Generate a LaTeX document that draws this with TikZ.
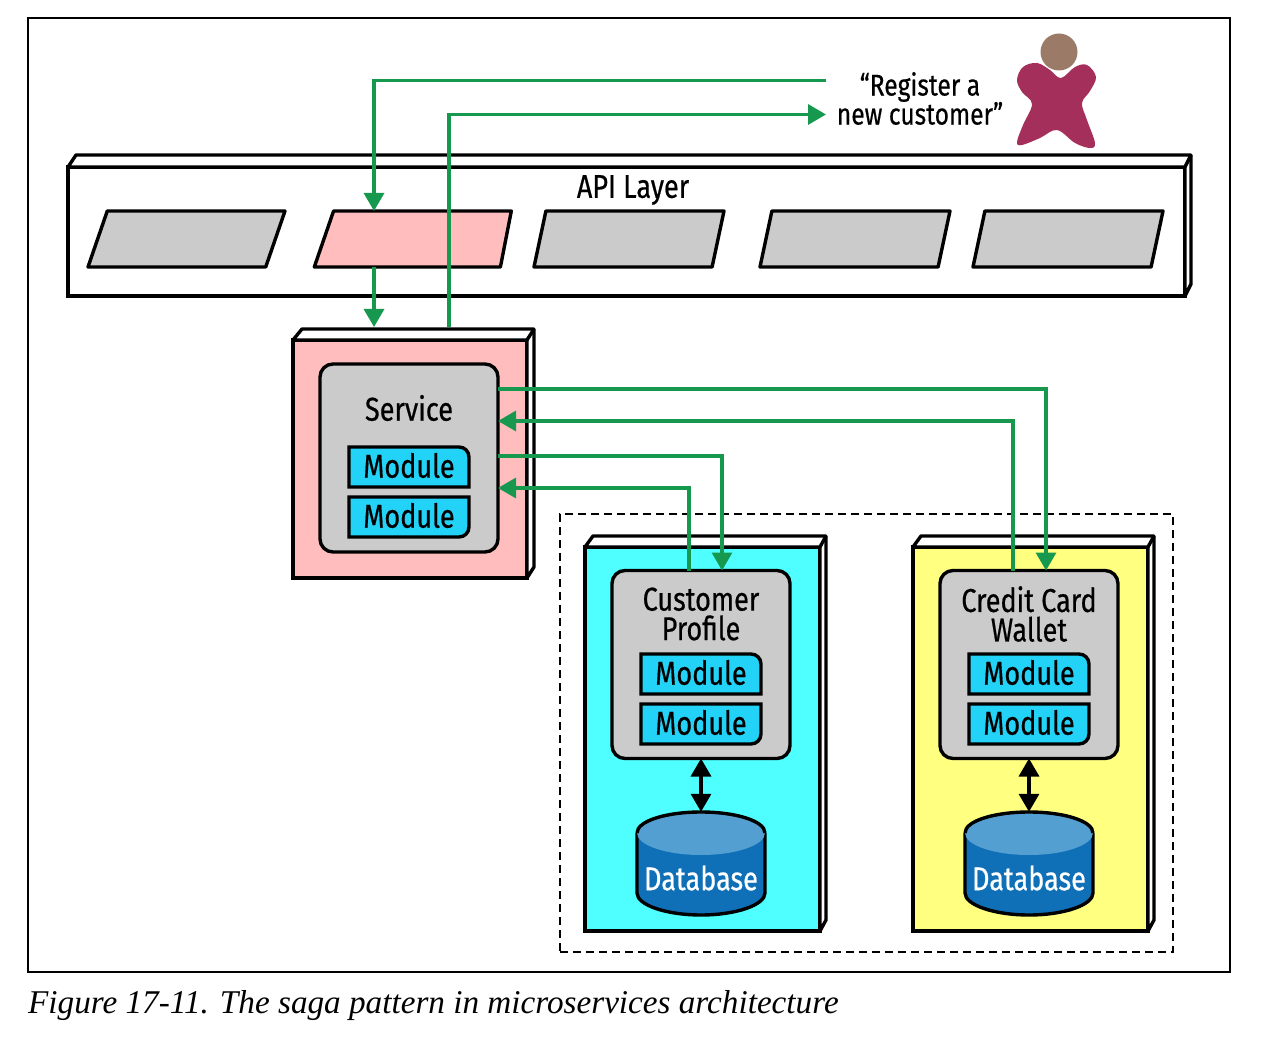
\documentclass[tikz,border=0pt]{standalone}
\usepackage{fontspec}
\setmainfont[FakeStretch=0.82,FakeBold=0.5]{Fira Sans}
\newfontfamily\captionfont{Liberation Serif}
\usepackage{tikz}
\usetikzlibrary{arrows.meta,positioning,shapes.geometric}

\definecolor{flowgreen}{HTML}{16994F}
\definecolor{slab}{HTML}{CBCBCB}
\definecolor{pinkfill}{HTML}{FFBDBD}
\definecolor{cyanfill}{HTML}{4FFFFF}
\definecolor{yellowfill}{HTML}{FFFF80}
\definecolor{modulefill}{HTML}{23D2F7}
\definecolor{dbbody}{HTML}{0F70B8}
\definecolor{dbtop}{HTML}{549FD1}

% front face plus the slanted top and side
\newcommand{\boxdepth}[3]{
\draw[line width=3.4pt, line join=round, fill=white] (#1.north west) -- ++(#2,-#3) -- ([shift={(#2-2,-#3)}]#1.north east) -- ([shift={(#2-2,-#3)}]#1.south east) -- (#1.south east) -- (#1.north east) -- cycle;
\draw[line width=3.4pt] (#1.north east) -- ++(#2-2,-#3);
}
% module with one rounded corner
\newcommand{\moduletop}[3]{
\draw[modulebody] (#2-60,#3-20) [rounded corners=10pt] -- (#2+60,#3-20) [sharp corners] -- (#2+60,#3+20) -- (#2-60,#3+20) -- cycle;
\node[moduletext] (#1) at (#2,#3-1.5) {Module};
}
\newcommand{\modulebot}[3]{
\draw[modulebody] (#2-60,#3-20) -- (#2+60,#3-20) [rounded corners=10pt] -- (#2+60,#3+20) [sharp corners] -- (#2-60,#3+20) -- cycle;
\node[moduletext] (#1) at (#2,#3-1.5) {Module};
}
% database drum around x = #2
\newcommand{\dbdrum}[2]{
\fill[dbbody] (#2-64,833) rectangle (#2+64,893);
\draw[dbline, fill=dbbody] (#2-64,833) -- (#2-64,893) .. controls (#2-64,905) and (#2-35,915) .. (#2,915) .. controls (#2+35,915) and (#2+64,905) .. (#2+64,893) -- (#2+64,833);
\fill[dbtop] (#2,833) ellipse (64 and 22);
\draw[dbline] (#2-64,833) .. controls (#2-64,821) and (#2-35,812) .. (#2,812) .. controls (#2+35,812) and (#2+64,821) .. (#2+64,833);
\node[inner sep=0pt, minimum width=129pt, minimum height=103pt] (#1) at (#2,863.5) {};
\node[dbtext] (#1label) at (#2,878) {Database};
}

\begin{document}
\begin{tikzpicture}
[x=1pt, y=-1pt, font=\fontsize{33}{29.5}\selectfont,
% STYLES
% The tier style is used for the front face of the large boxes
tier/.style={rectangle, draw, line width=3.4pt, inner sep=0pt, outer sep=0pt},
% The core style is used for the grey rounded boxes
core/.style={rectangle, draw, fill=slab, line width=3.4pt, rounded corners=13pt, inner sep=0pt, outer sep=0pt, minimum width=178pt, minimum height=188pt},
endpoint/.style={trapezium, trapezium stretches body=true, draw, fill=slab, line width=3.4pt, line join=round, inner xsep=1pt, inner ysep=28pt, outer sep=0pt},
modulebody/.style={draw, fill=modulefill, line width=3.4pt},
moduletext/.style={inner sep=0pt},
dbline/.style={draw, line width=3.4pt},
dbtext/.style={text=white, inner sep=0pt},
flow/.style={draw=flowgreen, line width=3.3pt, -{Triangle[length=18pt,width=20pt]}},
dbarrow/.style={draw, line width=3.4pt, {Triangle[length=18pt,width=20pt]}-{Triangle[length=18pt,width=20pt]}}]

\useasboundingbox (0,0) rectangle (1286,1048);

% Outer frame and caption
\node [rectangle, draw, line width=1.1pt, inner sep=0pt, minimum width=1202pt, minimum height=954pt] (frame) at (629,495) {};
\node [anchor=west, inner sep=0pt, font=\captionfont\itshape\fontsize{33.2}{36}\selectfont] (caption) at (28,1006) {Figure 17-11. The saga pattern in microservices architecture};
\node [rectangle, draw, dash pattern=on 8pt off 5pt, line width=2.7pt, inner sep=0pt, minimum width=613pt, minimum height=438pt] (sagagroup) at (866.5,733) {};

% API layer
\node [tier, fill=white, minimum width=1117pt, minimum height=129pt] (apilayer) at (626.5,231.5) {};
\boxdepth{apilayer}{8}{12}
\node [inner sep=0pt] (apilabel) at (633,190) {API Layer};
\node [endpoint, trapezium left angle=71, trapezium right angle=109, minimum width=197pt] (endpointa) at (186.5,239) {};
\node [endpoint, fill=pinkfill, trapezium left angle=71, trapezium right angle=101, minimum width=197pt] (endpointb) at (417,239) {};
\node [endpoint, trapezium left angle=78, trapezium right angle=102, minimum width=190pt] (endpointc) at (629,239) {};
\node [endpoint, trapezium left angle=78, trapezium right angle=102, minimum width=190pt] (endpointd) at (855,239) {};
\node [endpoint, trapezium left angle=78, trapezium right angle=102, minimum width=190pt] (endpointe) at (1068,239) {};

% Customer
\fill[color={rgb,255:red,155;green,123;blue,103}] (1059,52) circle (18.5);
\fill[color={rgb,255:red,165;green,47;blue,91}] plot[smooth cycle, tension=0.6] coordinates {(1061,78) (1075,67) (1087,65) (1096,77) (1090,91) (1082,103) (1087,120) (1095,143) (1090,148) (1075,143) (1057,130) (1040,138) (1022,145) (1017,142) (1023,125) (1032,104) (1022,92) (1017,80) (1023,67) (1037,63) (1050,70)};
\node [inner sep=0pt, align=center, font=\fontsize{30}{29}\selectfont] (request) at (920,98.5) {``Register a\\new customer''};
\coordinate (requestout) at (826,80.5);
\coordinate (requestin) at (826,114.5);

% Service
\node [tier, fill=pinkfill, minimum width=234pt, minimum height=238pt] (service) at (410,459) {};
\boxdepth{service}{9}{11}
\coordinate (serviceroof) at (409,327);
\node [core] (servicecore) at (409,458) {};
\node [inner sep=0pt] (servicelabel) at (409,408) {Service};
\moduletop{servicemodulea}{409}{467}
\modulebot{servicemoduleb}{409}{517}

% Customer profile
\node [tier, fill=cyanfill, minimum width=235pt, minimum height=384pt] (profile) at (702.5,739) {};
\boxdepth{profile}{8}{11}
\node [core] (profilecore) at (701,664.5) {};
\node [inner sep=0pt, align=center] (profilelabel) at (701,614) {Customer\\Profile};
\moduletop{profilemodulea}{701}{674}
\modulebot{profilemoduleb}{701}{724}
\dbdrum{profiledb}{701}

% Credit card wallet
\node [tier, fill=yellowfill, minimum width=235pt, minimum height=384pt, right=93pt of profile] (wallet) {};
\boxdepth{wallet}{8}{11}
\node [core] (walletcore) at (1029,664.5) {};
\node [inner sep=0pt, align=center] (walletlabel) at (1029,614) {Credit Card\\Wallet};
\moduletop{walletmodulea}{1029}{674}
\modulebot{walletmoduleb}{1029}{724}
\dbdrum{walletdb}{1029}

% Draw the links
\draw[flow] (requestout) -| (endpointb.north -| 374,0);
\draw[flow] (serviceroof -| 449,0) |- (requestin);
\draw[flow] (endpointb.south -| 374,0) -- (serviceroof -| 374,0);
\draw[flow] (servicecore.east |- 0,389) -| (walletcore.north -| 1046,0);
\draw[flow] (walletcore.north -| 1013,0) |- (servicecore.east |- 0,421);
\draw[flow] (servicecore.east |- 0,456) -| (profilecore.north -| 722,0);
\draw[flow] (profilecore.north -| 689,0) |- (servicecore.east |- 0,488);
\draw[dbarrow] (profilecore) -- (profiledb);
\draw[dbarrow] (walletcore) -- (walletdb);

\end{tikzpicture}
\end{document}
